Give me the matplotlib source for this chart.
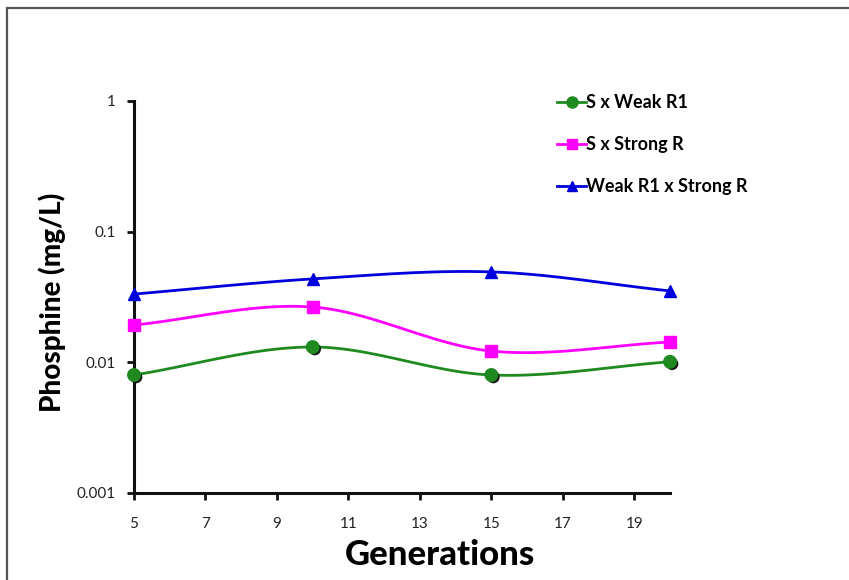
import numpy as np
import matplotlib
matplotlib.use("Agg")
import matplotlib.pyplot as plt
import matplotlib.patheffects as pe
from matplotlib.patches import Rectangle
from matplotlib.lines import Line2D

generations = [5, 10, 15, 20]
s_weak = [0.0080, 0.0131, 0.0080, 0.0101]
s_strong = [0.0193, 0.0265, 0.0122, 0.0143]
weak_strong = [0.0333, 0.0435, 0.0492, 0.0352]
x_ticks = [5, 7, 9, 11, 13, 15, 17, 19]
y_ticks = [0.001, 0.01, 0.1, 1]
y_ticklabels = ["0.001", "0.01", "0.1", "1"]

plt.rcParams['font.family'] = ['Lato', 'DejaVu Sans']

fig = plt.figure(figsize=(8.49, 5.8), dpi=100)
fig.patch.set_facecolor('white')
fig.patches.append(Rectangle((7/849, -0.01), 1.0, 1 - 8/580 + 0.01, transform=fig.transFigure,
                             fill=False, edgecolor='#555555', linewidth=1.6))

ax = fig.add_axes([134/849, 1 - 493/580, (670 - 134)/849, (493 - 101)/580])
ax.set_yscale('log')
ax.set_xlim(5, 20)
ax.set_ylim(0.001, 1)


def smooth(x, y, n=40):
    # Catmull-Rom spline in (x, log y) space, like Excel smoothed lines
    x = np.asarray(x, float)
    ly = np.log10(np.asarray(y, float))
    px = np.concatenate([[2 * x[0] - x[1]], x, [2 * x[-1] - x[-2]]])
    py = np.concatenate([[2 * ly[0] - ly[1]], ly, [2 * ly[-1] - ly[-2]]])
    xs, ys = [], []
    for i in range(1, len(px) - 2):
        t = np.linspace(0, 1, n)
        for arr, out in ((px, xs), (py, ys)):
            p0, p1, p2, p3 = arr[i - 1], arr[i], arr[i + 1], arr[i + 2]
            m1 = (p2 - p0) / 2
            m2 = (p3 - p1) / 2
            h00 = 2 * t**3 - 3 * t**2 + 1
            h10 = t**3 - 2 * t**2 + t
            h01 = -2 * t**3 + 3 * t**2
            h11 = t**3 - t**2
            out.extend(h00 * p1 + h10 * m1 + h01 * p2 + h11 * m2)
    return np.array(xs), 10 ** np.array(ys)

series = [
    (s_weak, '#1f8a1f', 'o', 9, "S x Weak R1", True),
    (s_strong, '#ff00ff', 's', 8, "S x Strong R", False),
    (weak_strong, '#0000dd', '^', 8, "Weak R1 x Strong R", False),
]
handles = []
for vals, col, mk, ms, lab, shadow in series:
    sx, sy = smooth(generations, vals)
    ax.plot(sx, sy, color=col, lw=2, clip_on=False, zorder=3)
    peff = [pe.SimplePatchShadow(offset=(1.5, -1.5), shadow_rgbFace='black', alpha=0.9), pe.Normal()] if shadow else None
    ax.plot(generations, vals, linestyle='none', marker=mk, markersize=ms, color=col,
            markeredgecolor=col, clip_on=False, zorder=4, path_effects=peff)
    handles.append(Line2D([], [], color=col, lw=2, marker=mk, markersize=ms - 1, label=lab))

for s in ['top', 'right']:
    ax.spines[s].set_visible(False)
for s in ['left', 'bottom']:
    ax.spines[s].set_linewidth(2.2)
    ax.spines[s].set_color('#111111')

ax.set_xticks(x_ticks)
ax.set_xticklabels([str(v) for v in x_ticks], fontsize=11)
ax.set_yticks(y_ticks)
ax.set_yticklabels(y_ticklabels, fontsize=11)
ax.yaxis.set_minor_locator(matplotlib.ticker.NullLocator())
ax.tick_params(axis='both', direction='out', length=5, width=2, color='#111111', labelcolor='#222222')
ax.tick_params(axis='x', pad=12)
ax.tick_params(axis='y', pad=8)

ax.set_xlabel("Generations", fontsize=25, fontweight='black')
ax.xaxis.set_label_coords((440 - 134) / (670 - 134), -(555 - 493) / (493 - 101))
ax.xaxis.label.set_va('center')
ax.set_ylabel("Phosphine (mg/L)", fontsize=20, fontweight='black')
ax.yaxis.set_label_coords(-(134 - 52) / (670 - 134), (493 - 302) / (493 - 101))
ax.yaxis.label.set_va('center')

leg = fig.legend(handles=handles, loc='upper left', bbox_to_anchor=(541/849, 1 - 78/580),
                 frameon=False, labelspacing=1.38, handlelength=1.6,
                 handletextpad=0.0, prop={'weight': 'bold', 'size': 13})

fig.savefig("out.png", dpi=100, facecolor='white')
